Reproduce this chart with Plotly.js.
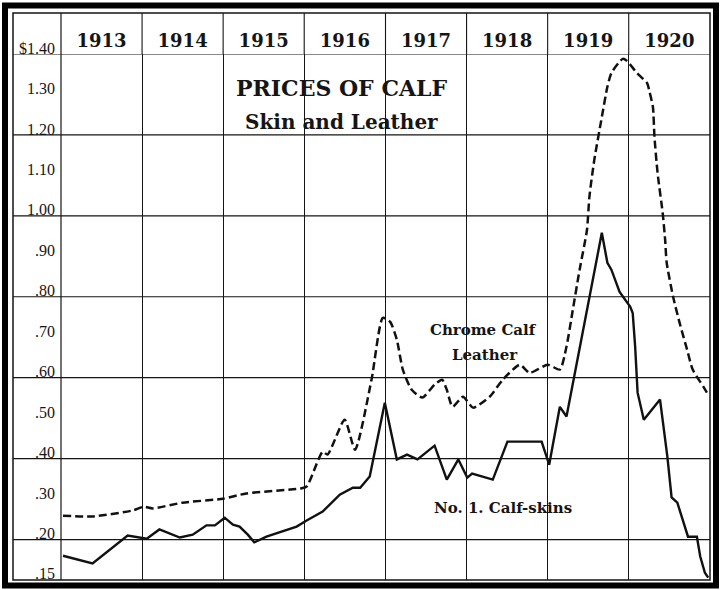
<!DOCTYPE html>
<html>
<head>
<meta charset="utf-8">
<script src="https://cdn.plot.ly/plotly-3.0.1.min.js"></script>
<style>html,body{margin:0;padding:0;background:#fff;}</style>
</head>
<body>
<div id="chart" style="width:721px;height:590px;"></div>
<script>
// ---- data ----
const years = ['1913','1914','1915','1916','1917','1918','1919','1920','1921'];

const skinDates = [
 '1913-01-10','1913-05-23','1913-10-28','1913-12-08','1914-01-22','1914-03-20','1914-06-20','1914-08-17',
 '1914-10-18','1914-11-25','1915-01-08','1915-02-14','1915-03-16','1915-04-22','1915-05-21','1915-07-15',
 '1915-09-27','1915-11-28','1916-01-12','1916-03-24','1916-06-09','1916-08-07','1916-09-09','1916-10-22',
 '1916-12-29','1917-02-21','1917-04-08','1917-05-25','1917-08-10','1917-10-04','1917-11-25','1918-01-04',
 '1918-01-26','1918-03-09','1918-04-29','1918-07-04','1918-12-05','1919-01-08','1919-02-25','1919-03-27',
 '1919-09-02','1919-09-27','1919-10-15','1919-11-21','1920-01-08','1920-01-19','1920-01-30','1920-02-10',
 '1920-03-09','1920-05-21','1920-06-23','1920-07-12','1920-08-07','1920-09-24','1920-11-03','1920-11-18',
 '1920-12-09','1920-12-24'
];
const skinPrices = [
 0.160,0.141,0.210,0.207,0.202,0.225,0.205,0.212,
 0.235,0.235,0.254,0.237,0.232,0.212,0.193,0.207,
 0.220,0.232,0.247,0.269,0.311,0.328,0.328,0.356,
 0.538,0.398,0.410,0.398,0.432,0.348,0.398,0.353,
 0.363,0.356,0.348,0.442,0.442,0.385,0.528,0.504,
 0.958,0.884,0.867,0.812,0.775,0.760,0.677,0.563,
 0.496,0.546,0.405,0.304,0.291,0.207,0.207,0.158,
 0.118,0.106
];

const leatherDates = [
 '1913-01-10','1913-05-21','1913-11-21','1914-01-08','1914-02-18','1914-07-01','1915-01-01','1915-04-15',
 '1915-12-13','1916-01-12','1916-03-24','1916-04-15','1916-07-01','1916-08-17','1916-10-30','1916-12-20',
 '1917-01-22','1917-02-21','1917-03-20','1917-04-29','1917-06-16','1917-08-10','1917-09-13','1917-10-04',
 '1917-10-30','1917-12-16','1918-01-30','1918-04-15','1918-06-13','1918-08-29','1918-10-12','1919-01-01',
 '1919-02-25','1919-03-27','1919-04-22','1919-05-25','1919-06-27','1919-07-08','1919-07-30','1919-09-02',
 '1919-09-27','1919-10-15','1919-12-05','1919-12-24','1920-02-07','1920-03-24','1920-04-04','1920-04-19',
 '1920-04-26','1920-05-10','1920-06-02','1920-06-13','1920-06-20','1920-07-19','1920-08-17','1920-09-20',
 '1920-10-15','1920-12-02','1920-12-24'
];
const leatherPrices = [
 0.259,0.257,0.272,0.281,0.277,0.291,0.301,0.314,
 0.326,0.331,0.417,0.410,0.496,0.422,0.595,0.748,
 0.738,0.694,0.620,0.570,0.551,0.583,0.595,0.570,
 0.528,0.553,0.526,0.553,0.595,0.632,0.612,0.632,
 0.620,0.677,0.760,0.867,0.965,1.047,1.138,1.244,
 1.319,1.353,1.388,1.383,1.353,1.328,1.306,1.269,
 1.195,1.106,1.007,0.941,0.884,0.800,0.736,0.669,
 0.620,0.578,0.558
];

// tick labels (bottom edge of the printed chart is labelled .15)
const yTickVals = [0.101,0.20,0.30,0.40,0.50,0.60,0.70,0.80,0.90,1.00,1.10,1.20,1.30,1.40];
const yTickText = ['.15','.20','.30','.40','.50','.60','.70','.80','.90','1.00','1.10','1.20','1.30','$1.40'];
const hLines = [0.20,0.40,0.60,0.80,1.00,1.20,1.40];

// ---- geometry helpers (pixel -> paper) ----
const W = 721, H = 590;
const M = {l:61, r:11, t:54, b:10};
const PW = W - M.l - M.r, PH = H - M.t - M.b;
const px = x => (x - M.l) / PW;
const py = y => (H - M.b - y) / PH;

const ink = '#151515';
const serif = 'Liberation Serif, Times New Roman, serif';
const boldSerif = 'DejaVu Serif, serif';

const shapes = [];
// thick outer border
shapes.push({type:'rect', xref:'paper', yref:'paper', x0:px(5), x1:px(716), y0:py(585.5), y1:py(5.5),
  line:{color:'#000', width:6}, layer:'above'});
// thin inner frame
shapes.push({type:'rect', xref:'paper', yref:'paper', x0:px(13), x1:1, y0:0, y1:py(13),
  line:{color:ink, width:1.5}, layer:'above'});
// left label column separator (full height)
shapes.push({type:'line', xref:'paper', yref:'paper', x0:0, x1:0, y0:0, y1:py(13),
  line:{color:ink, width:1.2}, layer:'above'});
// horizontal rules spanning the label column too
hLines.forEach(v => shapes.push({type:'line', xref:'paper', yref:'y', x0:px(13), x1:1, y0:v, y1:v,
  line:{color:ink, width:1.2}, layer:'below'}));
// year separators through the header row
years.slice(1, -1).forEach(yr => shapes.push({type:'line', xref:'x', yref:'paper',
  x0:yr + '-01-01', x1:yr + '-01-01', y0:1, y1:py(13), line:{color:ink, width:1.1}, layer:'above'}));

const traces = [
  {x: leatherDates, y: leatherPrices, type:'scatter', mode:'lines', name:'Chrome Calf Leather',
   line:{color:'#111', width:2.5, dash:'8px,4px', shape:'spline', smoothing:0.6}, hoverinfo:'skip'},
  {x: skinDates, y: skinPrices, type:'scatter', mode:'lines', name:'No. 1. Calf-skins',
   line:{color:'#111', width:2.4, shape:'linear'}, hoverinfo:'skip'}
];

const layout = {
  width: W, height: H,
  margin: {l:M.l, r:M.r, t:M.t, b:M.b, pad:0},
  paper_bgcolor:'#ffffff', plot_bgcolor:'#ffffff',
  showlegend:false,
  font:{family:serif, color:ink},
  xaxis:{
    type:'date', range:[years[0] + '-01-01', years[years.length-1] + '-01-01'],
    side:'top', dtick:'M12', tick0:years[0] + '-01-01', tickformat:'%Y', ticklabelmode:'period',
    ticks:'', ticklabelstandoff:2,
    showgrid:true, gridcolor:ink, gridwidth:1.1, zeroline:false, showline:false,
    tickfont:{family:boldSerif, size:18, weight:700, color:ink}, fixedrange:true
  },
  yaxis:{
    range:[0.10,1.40], tickmode:'array', tickvals:yTickVals, ticktext:yTickText,
    ticks:'', ticklabelshift:-6, ticklabelstandoff:5,
    showgrid:false, zeroline:false, showline:false,
    tickfont:{family:serif, size:16, color:ink}, fixedrange:true
  },
  shapes: shapes,
  annotations:[
    {xref:'paper', yref:'paper', x:px(341), y:py(88), xanchor:'center', yanchor:'middle',
     text:'PRICES OF CALF', showarrow:false,
     font:{family:boldSerif, size:22, weight:700, color:ink}},
    {xref:'paper', yref:'paper', x:px(341), y:py(122), xanchor:'center', yanchor:'middle',
     text:'Skin and Leather', showarrow:false,
     font:{family:boldSerif, size:20, weight:700, color:ink}},
    {xref:'paper', yref:'paper', x:px(483), y:py(330), xanchor:'center', yanchor:'middle',
     text:'Chrome Calf', showarrow:false,
     font:{family:boldSerif, size:15, weight:700, color:ink}},
    {xref:'paper', yref:'paper', x:px(485), y:py(355), xanchor:'center', yanchor:'middle',
     text:'Leather', showarrow:false,
     font:{family:boldSerif, size:15, weight:700, color:ink}},
    {xref:'paper', yref:'paper', x:px(503), y:py(508), xanchor:'center', yanchor:'middle',
     text:'No. 1. Calf-skins', showarrow:false,
     font:{family:boldSerif, size:15, weight:700, color:ink}}
  ]
};

Plotly.newPlot('chart', traces, layout, {staticPlot:true, displayModeBar:false});
</script>
</body>
</html>
